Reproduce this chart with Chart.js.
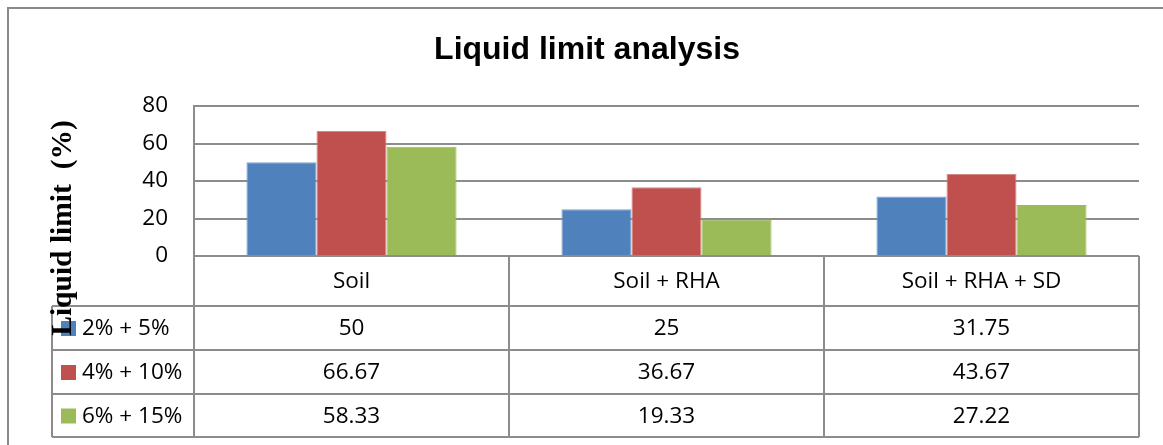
<!DOCTYPE html>
<html><head>
<meta charset="UTF-8">
<title>Liquid limit analysis</title>
<script src="https://cdn.jsdelivr.net/npm/chart.js"></script>
<style>
  html, body { margin: 0; padding: 0; background: #fff; }
  #wrap { width: 1163px; height: 445px; position: relative; }
</style>
</head>
<body>
<div id="wrap"><canvas id="myChart" width="1163" height="445"></canvas></div>
<script>
const categories = ['Soil', 'Soil + RHA', 'Soil + RHA + SD'];
const seriesNames = ['2% + 5%', '4% + 10%', '6% + 15%'];
const mix1 = [50, 25, 31.75];
const mix2 = [66.67, 36.67, 43.67];
const mix3 = [58.33, 19.33, 27.22];
const tableText = [
  ['50', '25', '31.75'],
  ['66.67', '36.67', '43.67'],
  ['58.33', '19.33', '27.22']
];
const yTicks = [0, 20, 40, 60, 80];

const colors = ['#4F81BD', '#C0504D', '#9BBB59'];
const edges = ['#7BA0D0', '#D88884', '#9BBB59'];
const lineCol = '#8c8c8c';
const txtFont = '22.5px "Open Sans", sans-serif';

// draws outer frame, title, axis title and the data table under the plot
const decor = {
  id: 'decor',
  afterDraw(chart) {
    const ctx = chart.ctx;
    const area = chart.chartArea;
    const x = chart.scales.x;
    ctx.save();

    // outer frame
    ctx.strokeStyle = '#8a8a8a';
    ctx.lineWidth = 2;
    ctx.beginPath();
    ctx.moveTo(8, 446);
    ctx.lineTo(8, 8);
    ctx.lineTo(1170, 8);
    ctx.stroke();

    // title
    ctx.fillStyle = '#000';
    ctx.font = 'bold 32px "Liberation Sans Narrow", "Arial Narrow", sans-serif';
    ctx.textAlign = 'center';
    ctx.textBaseline = 'middle';
    ctx.fillText('Liquid limit analysis', 587, 50);

    // table
    const left = area.left, right = area.right;
    const headBottom = area.bottom + 50;
    const rows = [headBottom, headBottom + 44, headBottom + 88, headBottom + 131];
    const legLeft = 52;
    ctx.strokeStyle = lineCol;
    ctx.lineWidth = 2;
    ctx.beginPath();
    ctx.moveTo(left, area.bottom); ctx.lineTo(right, area.bottom);
    rows.forEach(r => { ctx.moveTo(legLeft, r); ctx.lineTo(right, r); });
    ctx.moveTo(legLeft, rows[0]); ctx.lineTo(legLeft, rows[3]);
    ctx.moveTo(left, area.bottom); ctx.lineTo(left, rows[3]);
    const step = (right - left) / categories.length;
    for (let i = 1; i <= categories.length; i++) {
      const bx = left + step * i;
      ctx.moveTo(bx, area.bottom); ctx.lineTo(bx, rows[3]);
    }
    ctx.stroke();

    ctx.font = txtFont;
    ctx.fillStyle = '#000';
    ctx.textAlign = 'center';
    categories.forEach((c, i) => {
      const cx = x.getPixelForValue(i);
      ctx.fillText(c, cx, (area.bottom + rows[0]) / 2 + 1);
      for (let s = 0; s < seriesNames.length; s++) {
        ctx.fillText(tableText[s][i], cx, (rows[s] + rows[s + 1]) / 2 + 1);
      }
    });

    // legend keys in the table
    ctx.textAlign = 'left';
    seriesNames.forEach((n, s) => {
      const cy = (rows[s] + rows[s + 1]) / 2;
      ctx.fillStyle = colors[s];
      ctx.fillRect(61, cy - 7, 15, 15);
      ctx.fillStyle = '#000';
      ctx.fillText(n, 82, cy + 1);
    });

    // y axis title
    ctx.translate(63, 228);
    ctx.rotate(-Math.PI / 2);
    ctx.font = 'bold 29.5px "Liberation Serif", "Times New Roman", serif';
    ctx.textAlign = 'center';
    ctx.fillText('Liquid limit  (%)', 0, 0);

    ctx.restore();
  }
};

const ctx = document.getElementById('myChart').getContext('2d');
new Chart(ctx, {
  type: 'bar',
  data: {
    labels: categories,
    datasets: [mix1, mix2, mix3].map((d, i) => ({
      label: seriesNames[i],
      data: d,
      backgroundColor: colors[i],
      borderColor: edges[i],
      borderWidth: 1,
      categoryPercentage: 0.667,
      barPercentage: 1
    }))
  },
  options: {
    responsive: false,
    animation: false,
    layout: { padding: { left: 0, right: 24, top: 106, bottom: 0 } },
    plugins: {
      legend: { display: false },
      tooltip: { enabled: false },
      title: { display: false }
    },
    scales: {
      x: {
        grid: { display: false, drawTicks: false },
        border: { display: false },
        ticks: { display: false },
        afterFit(scale) { scale.height = 189; }
      },
      y: {
        min: 0,
        max: 80,
        afterBuildTicks(scale) { scale.ticks = yTicks.map(v => ({ value: v })); },
        afterFit(scale) { scale.width = 194; },
        grid: { color: lineCol, lineWidth: 2, drawTicks: false },
        border: { color: lineCol, width: 2 },
        ticks: {
          color: '#000',
          padding: 26,
          font: { family: '"Open Sans", sans-serif', size: 22.5 }
        }
      }
    }
  },
  plugins: [decor]
});
</script>
</body></html>
